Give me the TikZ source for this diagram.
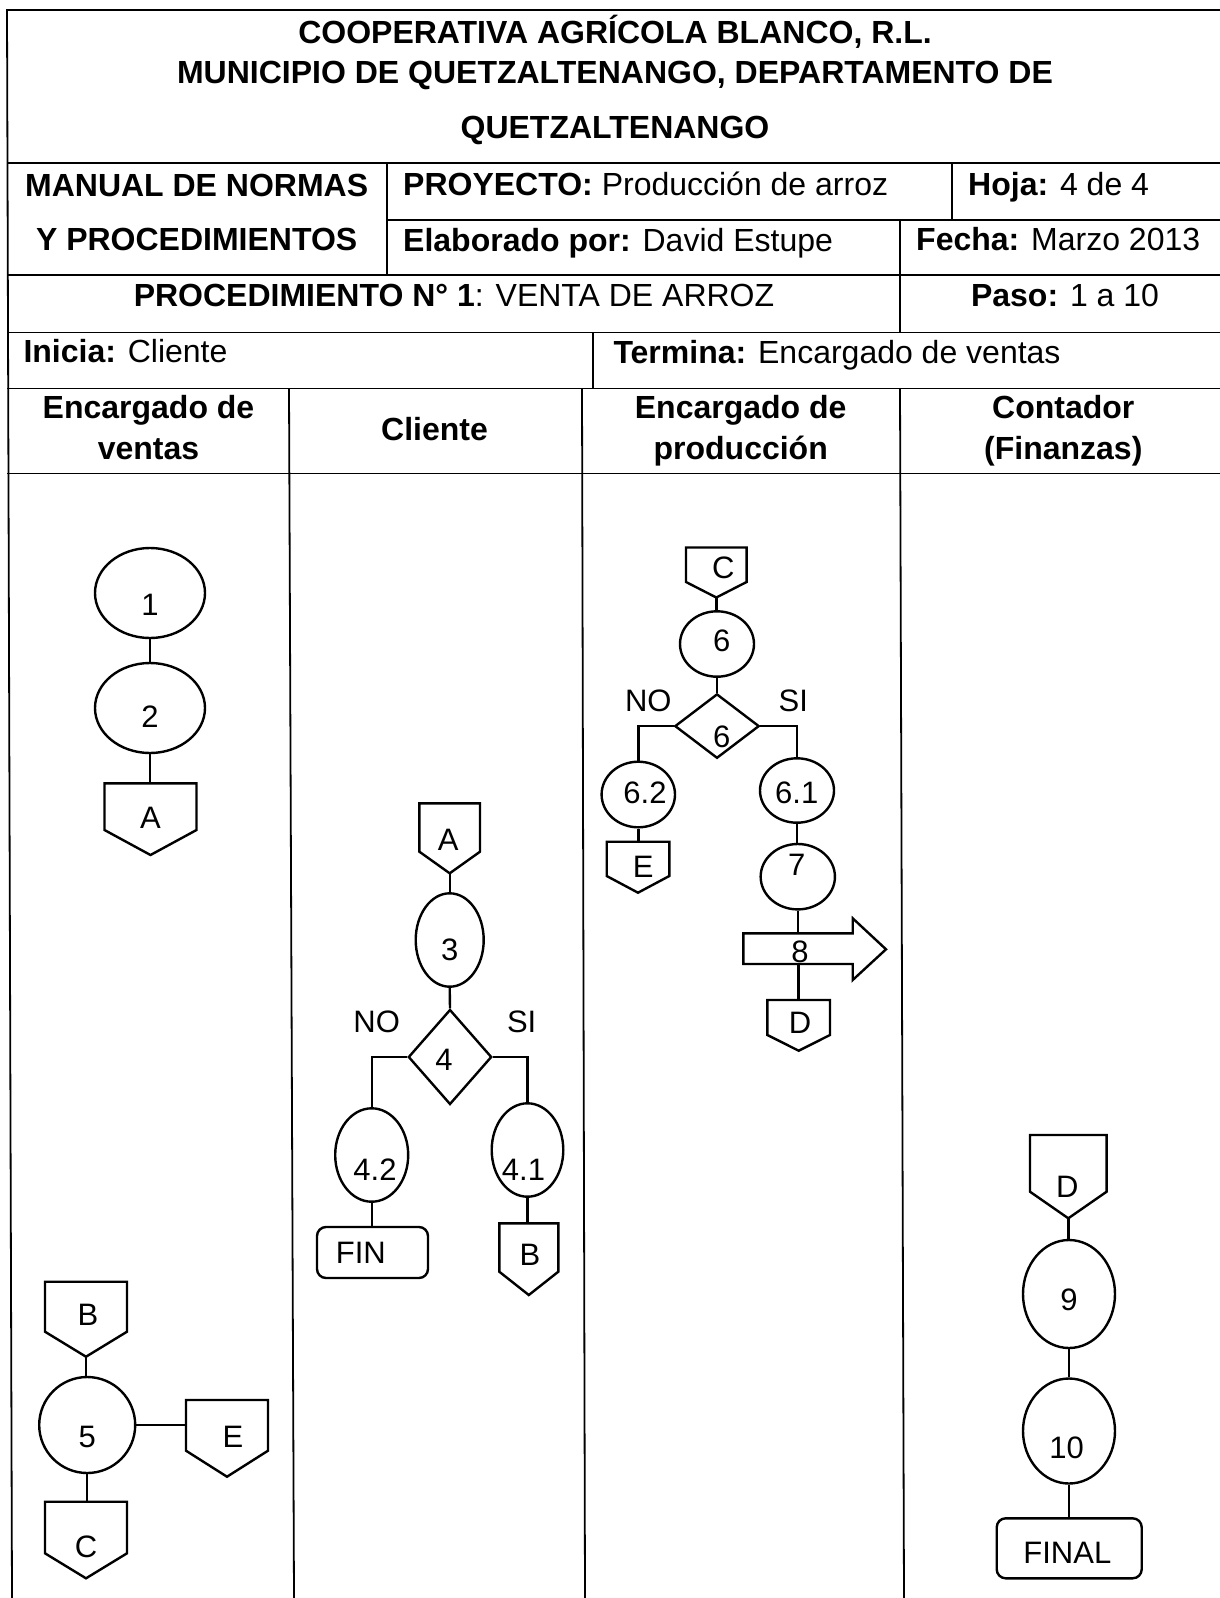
\documentclass[tikz,border=0pt]{standalone}
\usepackage{fontspec}
\setmainfont{Liberation Sans}
\usetikzlibrary{shapes.geometric}
% off-page connector: name, cx, top, half-width, side-bottom, point, label x, label y, text
\newcommand{\offpg}[9]{%
  \draw[shp, line join=miter] ({#2-#4},#3) -- ({#2+#4},#3) -- ({#2+#4},#5) -- (#2,#6) -- ({#2-#4},#5) -- cycle;
  \coordinate (#1n) at (#2,#3);
  \coordinate (#1s) at (#2,#6);
  \coordinate (#1w) at ({#2-#4},{(#3+#5)/2});
  \node[lbl] (#1) at (#7,#8) {#9};
}
\begin{document}
\begin{tikzpicture}[x=1pt,y=-1pt,
  tline/.style={line width=1.8pt},
  shp/.style={draw, line width=2.4pt},
  cn/.style={line width=2.4pt},
  lbl/.style={inner sep=0, font=\fontsize{31}{36}\selectfont},
  hd/.style={inner sep=0, anchor=base, font=\fontsize{32}{38}\selectfont},
  ell/.style={shp, ellipse, inner sep=0},
  dia/.style={shp, diamond, inner sep=0},
  term/.style={shp, rectangle, rounded corners=9pt, inner sep=0},
]
\useasboundingbox (0,0) rectangle (1220,1598);
\fill[white] (0,0) rectangle (1220,1598);

% ---------- table ----------
\draw[tline] (1220,10) -- (7,10) -- (12,1598);
\draw[tline] (7,163) -- (1220,163);
\draw[tline] (387,220) -- (1220,220);
\draw[tline] (7,275) -- (1220,275);
\draw[tline] (7,332.5) -- (1220,332.5);
\draw[tline] (7,388.5) -- (1220,388.5);
\draw[tline] (7,473.5) -- (1220,473.5);
\draw[tline] (387,163) -- (387,275);
\draw[tline] (952,163) -- (952,220);
\draw[tline] (900,220) -- (900,332.5);
\draw[tline] (593,332.5) -- (593,388.5);
\draw[tline] (289,388.5) -- (294,1598);
\draw[tline] (582,388.5) -- (585,1598);
\draw[tline] (900,388.5) -- (904,1598);

\node[hd] (t1) at (615,43) {\bfseries COOPERATIVA AGRÍCOLA BLANCO, R.L.};
\node[hd] (t2) at (615,83.3) {\bfseries MUNICIPIO DE QUETZALTENANGO, DEPARTAMENTO DE};
\node[hd] (t3) at (615,138) {\bfseries QUETZALTENANGO};
\node[hd] (m1) at (196.7,196.5) {\bfseries MANUAL DE NORMAS};
\node[hd] (m2) at (196.7,250) {\bfseries Y PROCEDIMIENTOS};
\node[hd, anchor=base west] (p1) at (403,195) {\textbf{PROYECTO:} Producción de arroz};
\node[hd, anchor=base west] (h1) at (968,195) {\textbf{Hoja:} 4 de 4};
\node[hd, anchor=base west] (e1) at (403,251) {\textbf{Elaborado por:} David Estupe};
\node[hd, anchor=base west] (f1) at (916,250) {\textbf{Fecha:} Marzo 2013};
\node[hd] (pr) at (454,306.5) {\textbf{PROCEDIMIENTO N° 1}: VENTA DE ARROZ};
\node[hd] (ps) at (1065,306.6) {\textbf{Paso:} 1 a 10};
\node[hd, anchor=base west] (in) at (23.3,362.5) {\textbf{Inicia:} Cliente};
\node[hd, anchor=base west] (te) at (613.3,363) {\textbf{Termina:} Encargado de ventas};
\node[hd] (l1a) at (148.5,418.3) {\bfseries Encargado de};
\node[hd] (l1b) at (148.5,459) {\bfseries ventas};
\node[hd] (l2) at (434.5,440) {\bfseries Cliente};
\node[hd] (l3a) at (740.7,418.3) {\bfseries Encargado de};
\node[hd] (l3b) at (740.7,459) {\bfseries producción};
\node[hd] (l4a) at (1063.3,418.3) {\bfseries Contador};
\node[hd] (l4b) at (1063.3,459) {\bfseries (Finanzas)};

% ---------- lane 1: Encargado de ventas ----------
\node[ell, minimum width=110pt, minimum height=90pt] (E1) at (150,593) {};
\node[lbl] (E1t) at (150,605) {1};
\node[ell, minimum width=110pt, minimum height=90pt] (E2) at (150,708) {};
\node[lbl] (E2t) at (150,716.7) {2};
\offpg{PA}{150.5}{783.3}{46}{830}{855}{150.5}{818}{A}
\draw[cn] (E1.south) -- (E2.north);
\draw[cn] (E2.south) -- (E2.south |- PAn);

\offpg{PB}{86}{1281.7}{41}{1331.7}{1356.7}{88}{1315}{B}
\node[shp, circle, inner sep=0, minimum size=96pt] (C5) at (87.2,1425) {};
\node[lbl] (C5t) at (87.2,1436.7) {5};
\offpg{PE}{227}{1400}{41}{1450.7}{1476.7}{233}{1436.7}{E}
\offpg{PC}{86}{1501.7}{41}{1553.3}{1578.3}{86}{1546.7}{C}
\draw[cn] (PBs) -- (PBs |- C5.north);
\draw[cn] (C5.east) -- (C5.east -| PEw);
\draw[cn] (C5.south) -- (C5.south |- PCn);

% ---------- lane 2: Cliente ----------
\offpg{QA}{449.7}{803.3}{30.3}{851.7}{873.3}{448.3}{840}{A}
\node[ell, minimum width=68pt, minimum height=93.4pt] (E3) at (449.7,940) {};
\node[lbl] (E3t) at (449.7,950) {3};
\node[dia, minimum width=83.4pt, minimum height=95pt] (D4) at (450,1057) {};
\node[lbl] (D4t) at (444,1060) {4};
\node[lbl] (no4) at (376.7,1021.7) {NO};
\node[lbl] (si4) at (521.7,1021.7) {SI};
\node[ell, minimum width=73pt, minimum height=93.4pt] (E42) at (371.7,1155) {};
\node[lbl] (E42t) at (375,1170) {4.2};
\node[term, minimum width=111pt, minimum height=51pt] (FIN) at (372.5,1252.5) {};
\node[lbl] (FINt) at (360.8,1253.3) {FIN};
\node[ell, minimum width=71.6pt, minimum height=93.4pt] (E41) at (527.5,1150) {};
\node[lbl] (E41t) at (523.5,1170) {4.1};
\offpg{QB}{528.8}{1223.3}{29.5}{1271.7}{1295}{530}{1255}{B}
\draw[cn] (QAs) -- (QAs |- E3.north);
\draw[cn] (E3.south) -- (D4.north);
\draw[cn] (D4.west) -| (E42.north);
\draw[cn] (D4.east) -| (E41.north);
\draw[cn] (E42.south) -- (E42.south |- FIN.north);
\draw[cn] (E41.south) -- (E41.south |- QBn);

% ---------- lane 3: Encargado de produccion ----------
\offpg{RC}{716.3}{547.5}{30.3}{582}{597.5}{723.3}{568.2}{C}
\node[ell, minimum width=74pt, minimum height=65.4pt] (E6) at (717,644) {};
\node[lbl] (E6t) at (721.7,640.5) {6};
\node[dia, minimum width=84.4pt, minimum height=64.4pt] (D6) at (717,726.1) {};
\node[lbl] (D6t) at (721.7,737) {6};
\node[lbl] (no6) at (648.3,700.8) {NO};
\node[lbl] (si6) at (793.3,700.8) {SI};
\node[ell, minimum width=73.4pt, minimum height=65.6pt] (E62) at (638.3,794.5) {};
\node[lbl] (E62t) at (645,793.3) {6.2};
\offpg{RE}{638}{841.7}{31.3}{876}{892.7}{643.3}{866.7}{E}
\node[ell, minimum width=74pt, minimum height=64.4pt] (E61) at (797,790.5) {};
\node[lbl] (E61t) at (796.7,793.3) {6.1};
\node[ell, minimum width=74.3pt, minimum height=65.4pt] (E7) at (797.8,876.7) {};
\node[lbl] (E7t) at (796.7,865) {7};
\draw[shp, line join=miter] (743.3,933.3) -- (852.7,933.3) -- (852.7,918.3) -- (886,949.3)
  -- (852.7,980) -- (852.7,964) -- (743.3,964) -- cycle;
\coordinate (A8n) at (798.3,933.3);
\coordinate (A8s) at (798.3,964);
\node[lbl] (A8t) at (800,951.7) {8};
\offpg{RD}{798.7}{1000}{31.3}{1035}{1050.7}{800}{1023.3}{D}
\draw[cn] (RCs) -- (RCs |- E6.north);
\draw[cn] (E6.south) -- (D6.north);
\draw[cn] (D6.west) -| (E62.north);
\draw[cn] (D6.east) -| (E61.north);
\draw[cn] (E62.south) -- (E62.south |- REn);
\draw[cn] (E61.south) -- (E61.south |- E7.north);
\draw[cn] (E7.south) -- (E7.south |- A8n);
\draw[cn] (A8s) -- (A8s |- RDn);

% ---------- lane 4: Contador ----------
\offpg{SD}{1068.3}{1135}{38.3}{1191.7}{1218.3}{1067.3}{1186.7}{D}
\node[ell, minimum width=92pt, minimum height=108pt] (E9) at (1069,1294) {};
\node[lbl] (E9t) at (1069,1300) {9};
\node[ell, minimum width=92pt, minimum height=105pt] (E10) at (1069,1431) {};
\node[lbl] (E10t) at (1066.7,1448.3) {10};
\node[term, minimum width=145pt, minimum height=60pt] (FINAL) at (1069.2,1548.3) {};
\node[lbl] (FINALt) at (1067.3,1553.3) {FINAL};
\draw[cn] (SDs) -- (SDs |- E9.north);
\draw[cn] (E9.south) -- (E10.north);
\draw[cn] (E10.south) -- (E10.south |- FINAL.north);
\end{tikzpicture}
\end{document}
